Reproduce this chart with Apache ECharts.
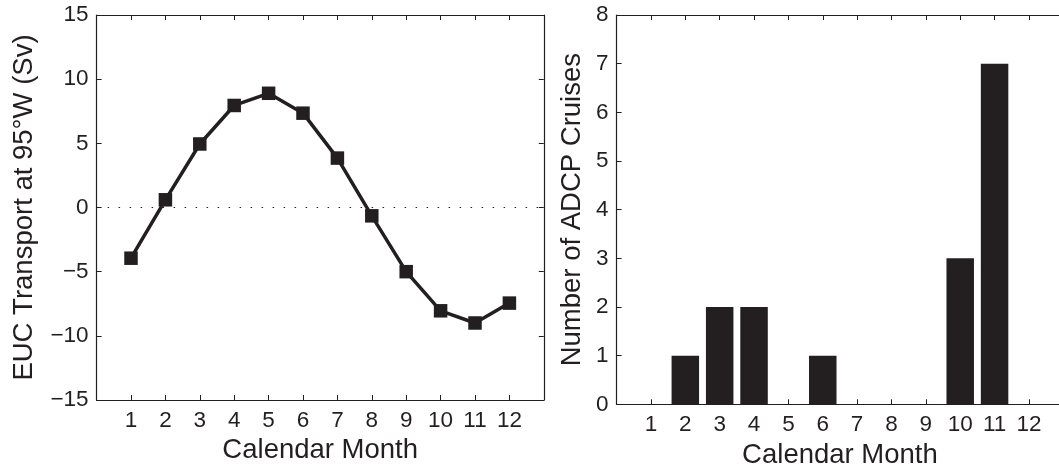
<!DOCTYPE html>
<html>
<head>
<meta charset="utf-8">
<script src="https://cdn.jsdelivr.net/npm/echarts@6/dist/echarts.min.js"></script>
<style>
html,body{margin:0;padding:0;background:#fff;}
#chart{width:1059px;height:465px;}
</style>
</head>
<body>
<div id="chart"></div>
<script>
// ---- data ----
const months = [1, 2, 3, 4, 5, 6, 7, 8, 9, 10, 11, 12];
const eucTransport = [-3.95, 0.6, 4.95, 7.95, 8.9, 7.35, 3.85, -0.65, -5.0, -8.05, -9.0, -7.45];
const adcpCruises = [0, 1, 2, 2, 0, 1, 0, 0, 0, 3, 7, 0];
const leftYTicks = {min: -15, max: 15, interval: 5};
const rightYTicks = {min: 0, max: 8, interval: 1};

const ink = '#231f20';
const font = 'Liberation Sans, Arial, Helvetica, sans-serif';

function bottomX(grid, nameGap) {
  return {
    type: 'value', gridIndex: grid, position: 'bottom', min: 0, max: 13, interval: 1,
    name: 'Calendar Month', nameLocation: 'middle', nameGap: nameGap,
    nameTextStyle: {color: ink, fontSize: 27.5, fontFamily: font},
    axisLine: {show: true, onZero: false, lineStyle: {color: ink, width: 1.2}},
    axisTick: {show: true, inside: true, length: 5, lineStyle: {color: ink, width: 1}},
    axisLabel: {show: true, color: ink, fontSize: 22.5, fontFamily: font, margin: 9,
      showMinLabel: false, showMaxLabel: false,
      formatter: v => (v >= 1 && v <= 12) ? String(v) : ''},
    splitLine: {show: false}
  };
}
function topX(grid) {
  return {
    type: 'value', gridIndex: grid, position: 'top', min: 0, max: 13, interval: 1,
    axisLine: {show: true, onZero: false, lineStyle: {color: ink, width: 1.2}},
    axisTick: {show: true, inside: true, length: 5, lineStyle: {color: ink, width: 1}},
    axisLabel: {show: false}, splitLine: {show: false}
  };
}
function leftY(grid, ticks, name, nameGap) {
  return {
    type: 'value', gridIndex: grid, position: 'left', min: ticks.min, max: ticks.max, interval: ticks.interval,
    name: name, nameLocation: 'middle', nameGap: nameGap,
    nameTextStyle: {color: ink, fontSize: 27.5, fontFamily: font},
    axisLine: {show: true, onZero: false, lineStyle: {color: ink, width: 1.2}},
    axisTick: {show: true, inside: true, length: 5, lineStyle: {color: ink, width: 1}},
    axisLabel: {show: true, color: ink, fontSize: 22.5, fontFamily: font, margin: 8,
      formatter: v => String(v).replace('-', '\u2212')},
    splitLine: {show: false}
  };
}
function rightY(grid, ticks, visible) {
  return {
    type: 'value', gridIndex: grid, position: 'right', min: ticks.min, max: ticks.max, interval: ticks.interval,
    axisLine: {show: visible, onZero: false, lineStyle: {color: ink, width: 1.2}},
    axisTick: {show: visible, inside: true, length: 5, lineStyle: {color: ink, width: 1}},
    axisLabel: {show: false}, splitLine: {show: false}
  };
}

const chart = echarts.init(document.getElementById('chart'), null, {renderer: 'canvas'});
chart.setOption({
  animation: false,
  backgroundColor: '#fff',
  grid: [
    {left: 96.6, top: 15, width: 447.2, height: 385, outerBoundsMode: 'none', containLabel: false},
    {left: 616.6, top: 15, width: 446.7, height: 389.3, outerBoundsMode: 'none', containLabel: false}
  ],
  xAxis: [bottomX(0, 35), topX(0), bottomX(1, 34), topX(1)],
  yAxis: [
    leftY(0, leftYTicks, 'EUC Transport at 95\u00B0W (Sv)', 58), rightY(0, leftYTicks, true),
    leftY(1, rightYTicks, 'Number of ADCP Cruises', 30), rightY(1, rightYTicks, false)
  ],
  series: [
    {
      type: 'line', xAxisIndex: 0, yAxisIndex: 0,
      data: months.map((m, i) => [m, eucTransport[i]]),
      symbol: 'rect', symbolSize: 13.5,
      lineStyle: {color: ink, width: 3.5},
      itemStyle: {color: ink},
      z: 5,
      markLine: {
        silent: true, symbol: ['none', 'none'], label: {show: false},
        lineStyle: {color: ink, width: 1.2, type: [1.5, 9.5]},
        emphasis: {disabled: true},
        data: [[{coord: [0, 0]}, {coord: [13, 0]}]]
      }
    },
    {
      type: 'bar', xAxisIndex: 2, yAxisIndex: 2,
      data: months.map((m, i) => [m, adcpCruises[i]]),
      barWidth: 27.5,
      itemStyle: {color: ink}
    }
  ]
});
</script>
</body>
</html>
